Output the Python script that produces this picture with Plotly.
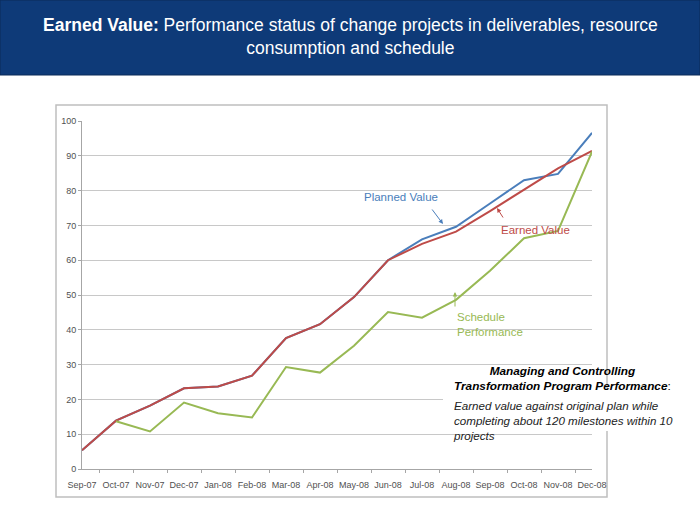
import plotly.graph_objects as go

months = ["Sep-07", "Oct-07", "Nov-07", "Dec-07", "Jan-08", "Feb-08", "Mar-08", "Apr-08",
          "May-08", "Jun-08", "Jul-08", "Aug-08", "Sep-08", "Oct-08", "Nov-08", "Dec-08"]
planned_value = [5.4, 13.9, 18.2, 23.2, 23.7, 26.8, 37.6, 41.6,
                 49.4, 60.0, 66.0, 69.6, 76.3, 83.0, 84.8, 96.6]
earned_value = [5.4, 13.9, 18.2, 23.2, 23.7, 26.8, 37.6, 41.6,
                49.4, 60.0, 64.7, 68.2, 74.1, 80.2, 86.4, 91.4]
schedule_perf = [None, 13.7, 10.8, 19.1, 16.0, 14.8, 29.3, 27.7,
                 35.4, 45.1, 43.5, 48.6, 57.0, 66.3, 68.4, 91.2]
y_ticks = [0, 10, 20, 30, 40, 50, 60, 70, 80, 90, 100]

BLUE = "#4A7EBB"
RED = "#BE4B48"
GREEN = "#98B954"

W, H = 700, 525
# plot area in pixels
L, R, T, B = 82, 592, 121, 469


def px(x):
    return (x - L) / (R - L)


def py(y):
    return (B - y) / (B - T)


def label(text, x, y, color, size=11.5, xanchor="left", align="left", family="Liberation Sans"):
    return dict(text=text, xref="paper", yref="paper", x=px(x), y=py(y),
                xanchor=xanchor, yanchor="middle", align=align, showarrow=False,
                font=dict(family=family, size=size, color=color))


def arrow(x_head, y_head, dx, dy, color):
    return dict(text="", xref="paper", yref="paper", x=px(x_head), y=py(y_head), ax=dx, ay=dy,
                showarrow=True, arrowhead=2, arrowsize=0.9, arrowwidth=1, arrowcolor=color)


fig = go.Figure()
fig.add_trace(go.Scatter(x=months, y=planned_value, mode="lines", name="Planned Value",
                         line=dict(color=BLUE, width=2)))
fig.add_trace(go.Scatter(x=months, y=earned_value, mode="lines", name="Earned Value",
                         line=dict(color=RED, width=2)))
fig.add_trace(go.Scatter(x=months, y=schedule_perf, mode="lines", name="Schedule Performance",
                         line=dict(color=GREEN, width=2)))

shapes = [
    # header banner
    dict(type="rect", xref="paper", yref="paper", x0=px(0), x1=px(700), y0=py(75), y1=py(0),
         fillcolor="#0E3A78", line=dict(color="#0A2A58", width=1), layer="below"),
    # chart frame
    dict(type="rect", xref="paper", yref="paper", x0=px(56), x1=px(607), y0=py(497), y1=py(105),
         fillcolor="rgba(0,0,0,0)", line=dict(color="#BFBFBF", width=1.5), layer="below"),
    # white text box
    dict(type="rect", xref="paper", yref="paper", x0=px(443), x1=px(690), y0=py(431), y1=py(390),
         fillcolor="white", line=dict(width=0), layer="above"),
]

annotations = [
    label("<b>Earned Value:</b> Performance status of change projects in deliverables, resource<br>"
          "consumption and schedule", 350, 36, "white", size=17.5, xanchor="center", align="center"),
    label("Planned Value", 362, 197, BLUE),
    arrow(443, 224, -12, -16, BLUE),
    label("Earned Value", 499, 230, RED),
    arrow(497, 208, 7, 11, RED),
    label("Schedule<br>Performance", 455, 324, GREEN),
    arrow(455, 292, 0, 16, GREEN),
    label("<b><i>Managing and Controlling<br>Transformation Program Performance</i></b>:",
          562, 378, "black", size=11.8, xanchor="center", align="center"),
    label("<i>Earned value against original plan while<br>"
          "completing about 120 milestones within 10<br>projects</i>",
          451, 420, "#222222", size=11.6),
]

tick_font = dict(family="Liberation Sans Narrow, Liberation Sans", size=9, color="#505050")

fig.update_layout(
    width=W, height=H,
    margin=dict(l=L, r=W - R, t=T, b=H - B, pad=0),
    paper_bgcolor="white", plot_bgcolor="white",
    showlegend=False,
    shapes=shapes,
    annotations=annotations,
    xaxis=dict(type="category", showgrid=False, showline=True, linecolor="#A6A6A6", linewidth=1,
               ticks="outside", tickson="boundaries", ticklen=3, tickcolor="#A6A6A6",
               tickangle=0, ticklabelstandoff=7, tickfont=tick_font),
    yaxis=dict(range=[0, 100], tickvals=y_ticks, showgrid=True, gridcolor="#C8C8C8", gridwidth=1,
               showline=True, linecolor="#A6A6A6", linewidth=1, zeroline=False,
               ticks="outside", ticklen=3, tickcolor="#A6A6A6", tickfont=tick_font),
)

fig.write_html("out.html", config={"displayModeBar": False},
               post_script="document.body.style.margin='0px';")
